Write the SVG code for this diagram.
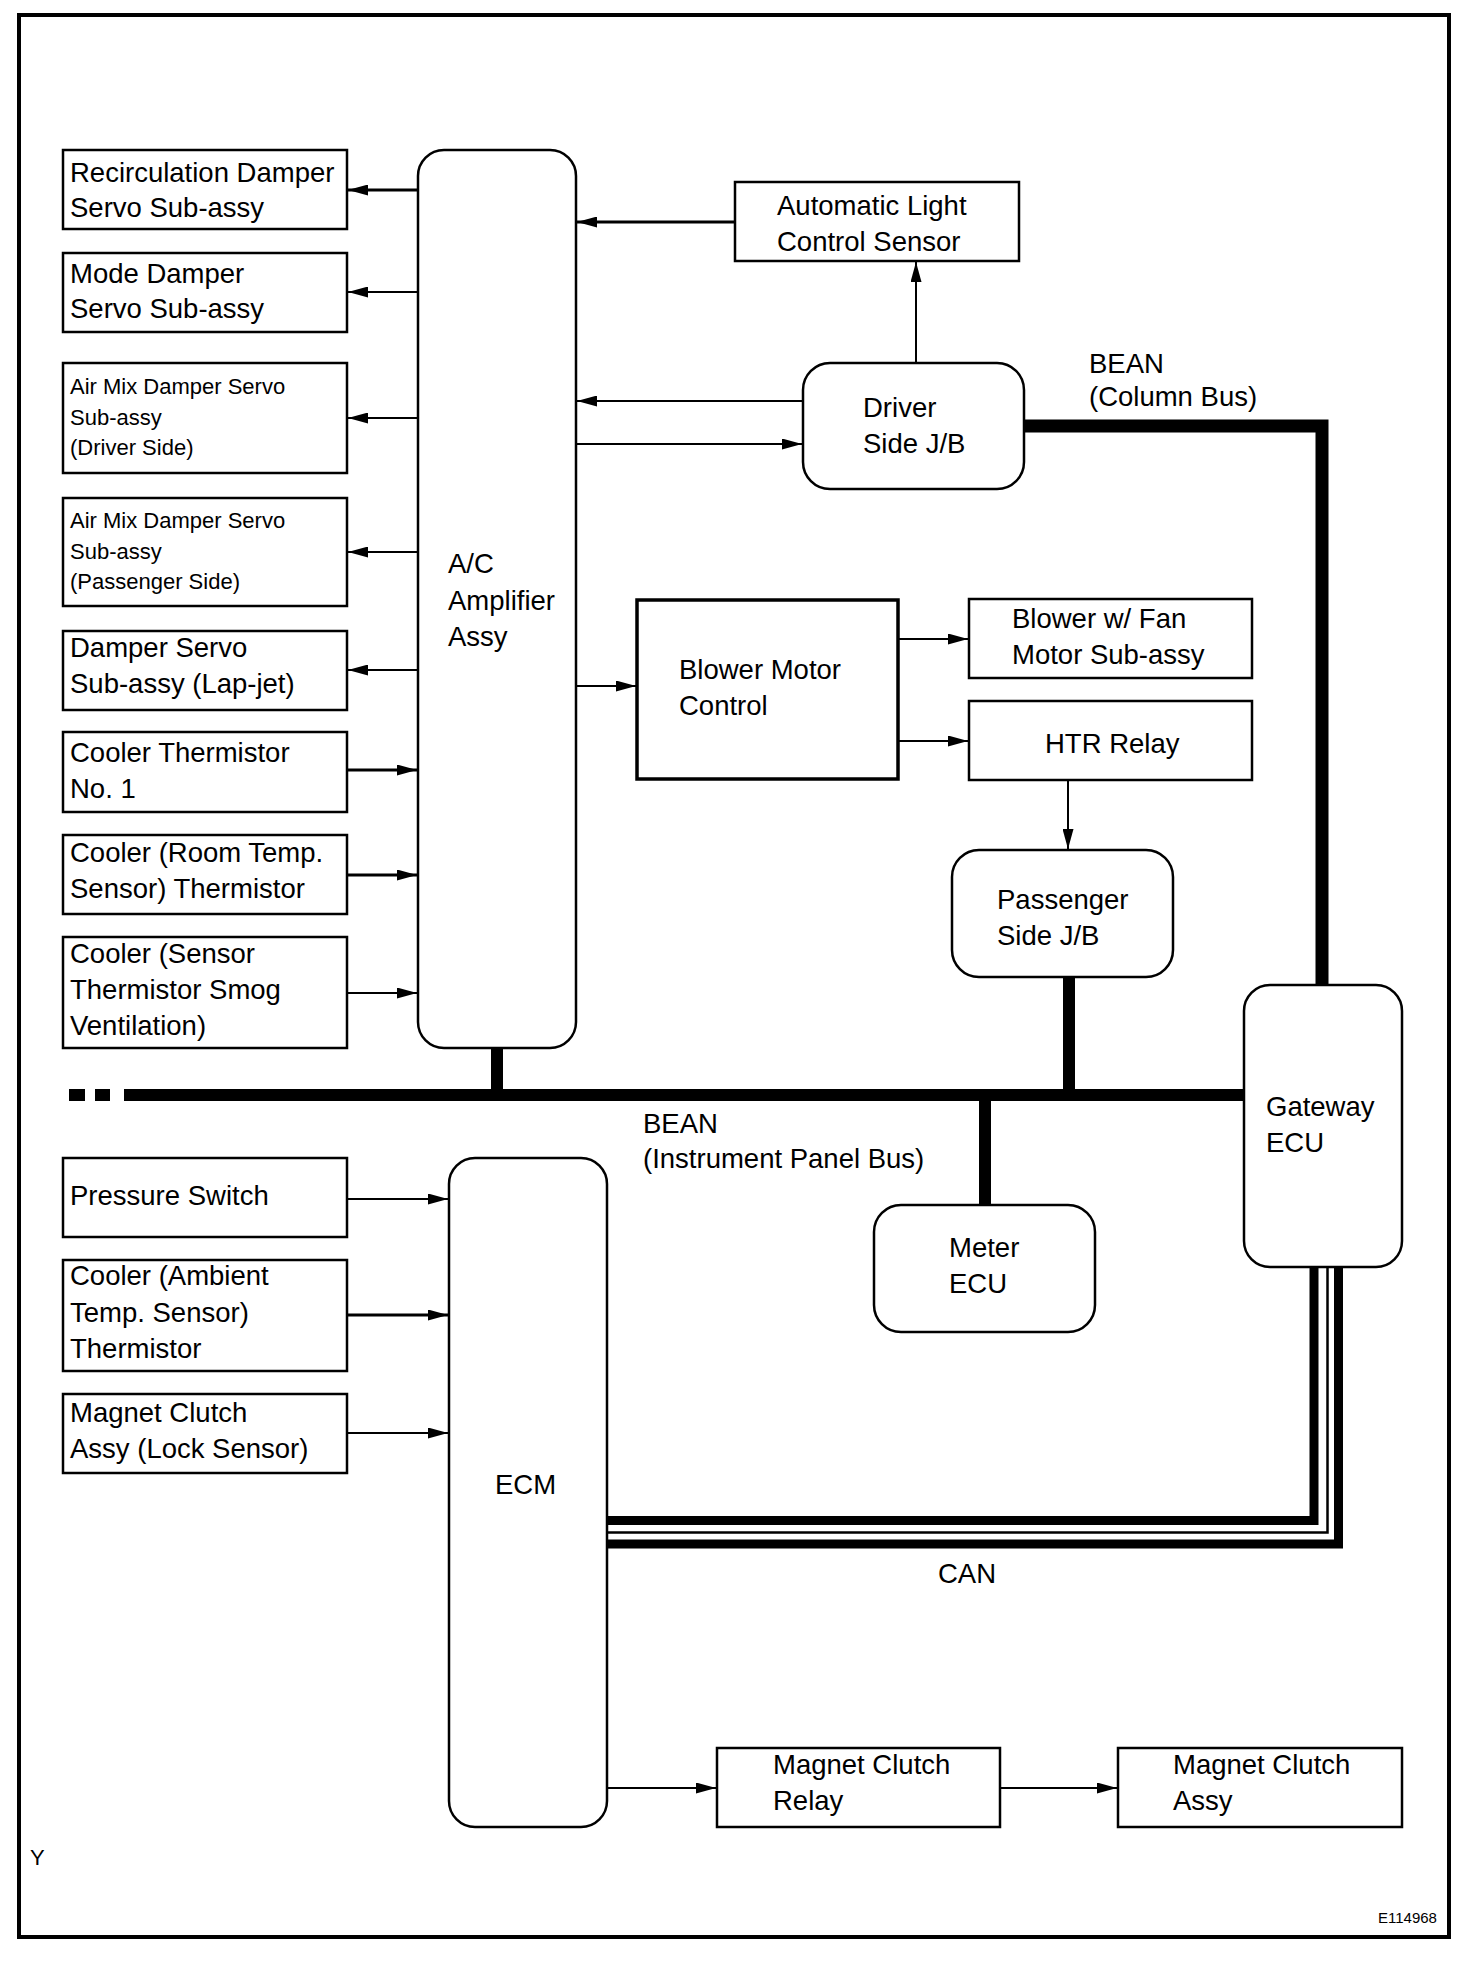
<svg xmlns="http://www.w3.org/2000/svg" width="1472" height="1972" viewBox="0 0 1472 1972">
<style>
.box{fill:#fff;stroke:#000;stroke-width:2.5}
.thick{fill:#fff;stroke:#000;stroke-width:3.5}
.t{font-family:"Liberation Sans",Arial,sans-serif;font-size:27.5px;fill:#000}
.s{font-family:"Liberation Sans",Arial,sans-serif;font-size:22px;fill:#000}
.ln{fill:none;stroke:#000;stroke-width:2}
.ln3{fill:none;stroke:#000;stroke-width:3}
.bus{fill:none;stroke:#000;stroke-linejoin:miter;stroke-linecap:butt}
</style>
<defs>
<marker id="ah" markerUnits="userSpaceOnUse" markerWidth="20" markerHeight="11" refX="20" refY="5.5" orient="auto">
<path d="M0,0 L20,5.5 L0,11 z" fill="#000"/>
</marker>
</defs>
<rect x="0" y="0" width="1472" height="1972" fill="#fff"/>
<rect id="frame" x="19" y="15" width="1430" height="1922" fill="none" stroke="#000" stroke-width="4"/>

<g id="connectors">
<line class="ln3" x1="418" y1="190" x2="348" y2="190" marker-end="url(#ah)"/>
<line class="ln" x1="418" y1="292" x2="348" y2="292" marker-end="url(#ah)"/>
<line class="ln" x1="418" y1="418" x2="348" y2="418" marker-end="url(#ah)"/>
<line class="ln" x1="418" y1="552" x2="348" y2="552" marker-end="url(#ah)"/>
<line class="ln" x1="418" y1="670" x2="348" y2="670" marker-end="url(#ah)"/>
<line class="ln3" x1="347" y1="770" x2="417" y2="770" marker-end="url(#ah)"/>
<line class="ln3" x1="347" y1="875" x2="417" y2="875" marker-end="url(#ah)"/>
<line class="ln" x1="347" y1="993" x2="417" y2="993" marker-end="url(#ah)"/>
<line class="ln3" x1="735" y1="222" x2="577" y2="222" marker-end="url(#ah)"/>
<line class="ln" x1="803" y1="401" x2="577" y2="401" marker-end="url(#ah)"/>
<line class="ln" x1="576" y1="444" x2="802" y2="444" marker-end="url(#ah)"/>
<line class="ln" x1="916" y1="363" x2="916" y2="262" marker-end="url(#ah)"/>
<line class="ln" x1="576" y1="686" x2="636" y2="686" marker-end="url(#ah)"/>
<line class="ln" x1="898" y1="639" x2="968" y2="639" marker-end="url(#ah)"/>
<line class="ln" x1="898" y1="741" x2="968" y2="741" marker-end="url(#ah)"/>
<line class="ln" x1="1068" y1="780" x2="1068" y2="849" stroke-width="1.5" marker-end="url(#ah)"/>
<path class="bus" d="M1024,426 H1322 V985" stroke-width="13"/>
<line class="bus" x1="124" y1="1095" x2="1244" y2="1095" stroke-width="12"/>
<rect x="69" y="1089" width="16" height="12" fill="#000"/>
<rect x="95" y="1089" width="15" height="12" fill="#000"/>
<line class="bus" x1="497" y1="1048" x2="497" y2="1095" stroke-width="12"/>
<line class="bus" x1="1069" y1="977" x2="1069" y2="1095" stroke-width="12"/>
<line class="bus" x1="985" y1="1095" x2="985" y2="1205" stroke-width="12"/>
<line class="ln" x1="347" y1="1199" x2="448" y2="1199" marker-end="url(#ah)"/>
<line class="ln3" x1="347" y1="1315" x2="448" y2="1315" marker-end="url(#ah)"/>
<line class="ln" x1="347" y1="1433" x2="448" y2="1433" marker-end="url(#ah)"/>
<path class="bus" d="M607,1520.5 H1314 V1267" stroke-width="9"/>
<path class="bus" d="M607,1532.5 H1327.5 V1267" stroke-width="2.5"/>
<path class="bus" d="M607,1544 H1338.5 V1267" stroke-width="9"/>
<line class="ln" x1="607" y1="1788" x2="716" y2="1788" marker-end="url(#ah)"/>
<line class="ln" x1="1000" y1="1788" x2="1117" y2="1788" marker-end="url(#ah)"/>
</g>

<g id="recirc"><rect class="box" x="63" y="150" width="284" height="79"/><text class="t" x="70" y="182">Recirculation Damper</text><text class="t" x="70" y="217">Servo Sub-assy</text></g>
<g id="mode"><rect class="box" x="63" y="253" width="284" height="79"/><text class="t" x="70" y="283">Mode Damper</text><text class="t" x="70" y="318">Servo Sub-assy</text></g>
<g id="airmix-driver"><rect class="box" x="63" y="363" width="284" height="110"/><text class="s" x="70" y="394">Air Mix Damper Servo</text><text class="s" x="70" y="425">Sub-assy</text><text class="s" x="70" y="455">(Driver Side)</text></g>
<g id="airmix-pass"><rect class="box" x="63" y="498" width="284" height="108"/><text class="s" x="70" y="528">Air Mix Damper Servo</text><text class="s" x="70" y="559">Sub-assy</text><text class="s" x="70" y="589">(Passenger Side)</text></g>
<g id="lapjet"><rect class="box" x="63" y="631" width="284" height="79"/><text class="t" x="70" y="657">Damper Servo</text><text class="t" x="70" y="693">Sub-assy (Lap-jet)</text></g>
<g id="cooler1"><rect class="box" x="63" y="732" width="284" height="80"/><text class="t" x="70" y="762">Cooler Thermistor</text><text class="t" x="70" y="798">No. 1</text></g>
<g id="room"><rect class="box" x="63" y="835" width="284" height="79"/><text class="t" x="70" y="862">Cooler (Room Temp.</text><text class="t" x="70" y="898">Sensor) Thermistor</text></g>
<g id="smog"><rect class="box" x="63" y="937" width="284" height="111"/><text class="t" x="70" y="963">Cooler (Sensor</text><text class="t" x="70" y="999">Thermistor Smog</text><text class="t" x="70" y="1035">Ventilation)</text></g>

<g id="ac-amp"><rect class="box" x="418" y="150" width="158" height="898" rx="26"/><text class="t" x="448" y="573">A/C</text><text class="t" x="448" y="610">Amplifier</text><text class="t" x="448" y="646">Assy</text></g>
<g id="auto-light"><rect class="box" x="735" y="182" width="284" height="79"/><text class="t" x="777" y="215">Automatic Light</text><text class="t" x="777" y="251">Control Sensor</text></g>
<g id="driver-jb"><rect class="box" x="803" y="363" width="221" height="126" rx="27"/><text class="t" x="863" y="417">Driver</text><text class="t" x="863" y="453">Side J/B</text></g>
<g id="bean-col"><text class="t" x="1089" y="373">BEAN</text><text class="t" x="1089" y="406">(Column Bus)</text></g>
<g id="blower-ctrl"><rect class="thick" x="637" y="600" width="261" height="179"/><text class="t" x="679" y="679">Blower Motor</text><text class="t" x="679" y="715">Control</text></g>
<g id="blower-fan"><rect class="box" x="969" y="599" width="283" height="79"/><text class="t" x="1012" y="628">Blower w/ Fan</text><text class="t" x="1012" y="664">Motor Sub-assy</text></g>
<g id="htr"><rect class="box" x="969" y="701" width="283" height="79"/><text class="t" x="1045" y="753">HTR Relay</text></g>
<g id="pass-jb"><rect class="box" x="952" y="850" width="221" height="127" rx="27"/><text class="t" x="997" y="909">Passenger</text><text class="t" x="997" y="945">Side J/B</text></g>
<g id="gateway"><rect class="box" x="1244" y="985" width="158" height="282" rx="26"/><text class="t" x="1266" y="1116">Gateway</text><text class="t" x="1266" y="1152">ECU</text></g>
<g id="bean-ip"><text class="t" x="643" y="1133">BEAN</text><text class="t" x="643" y="1168">(Instrument Panel Bus)</text></g>
<g id="meter"><rect class="box" x="874" y="1205" width="221" height="127" rx="27"/><text class="t" x="949" y="1257">Meter</text><text class="t" x="949" y="1293">ECU</text></g>
<g id="pressure"><rect class="box" x="63" y="1158" width="284" height="79"/><text class="t" x="70" y="1205">Pressure Switch</text></g>
<g id="ambient"><rect class="box" x="63" y="1260" width="284" height="111"/><text class="t" x="70" y="1285">Cooler (Ambient</text><text class="t" x="70" y="1322">Temp. Sensor)</text><text class="t" x="70" y="1358">Thermistor</text></g>
<g id="lock"><rect class="box" x="63" y="1394" width="284" height="79"/><text class="t" x="70" y="1422">Magnet Clutch</text><text class="t" x="70" y="1458">Assy (Lock Sensor)</text></g>
<g id="ecm"><rect class="box" x="449" y="1158" width="158" height="669" rx="26"/><text class="t" x="495" y="1494">ECM</text></g>
<g id="can"><text class="t" x="938" y="1583">CAN</text></g>
<g id="mc-relay"><rect class="box" x="717" y="1748" width="283" height="79"/><text class="t" x="773" y="1774">Magnet Clutch</text><text class="t" x="773" y="1810">Relay</text></g>
<g id="mc-assy"><rect class="box" x="1118" y="1748" width="284" height="79"/><text class="t" x="1173" y="1774">Magnet Clutch</text><text class="t" x="1173" y="1810">Assy</text></g>
<text class="t" x="30" y="1865" style="font-size:22px">Y</text>
<text class="t" x="1378" y="1923" style="font-size:15px">E114968</text>
</svg>
